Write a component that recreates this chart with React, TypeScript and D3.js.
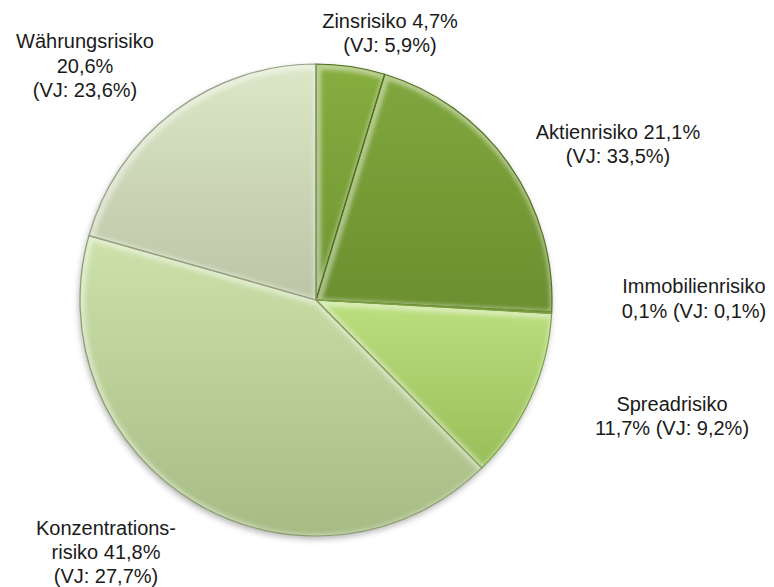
import React from "react";
import * as d3 from "d3";

const categories = [
  "Zinsrisiko",
  "Aktienrisiko",
  "Immobilienrisiko",
  "Spreadrisiko",
  "Konzentrationsrisiko",
  "Währungsrisiko",
];
const values = [4.7, 21.1, 0.1, 11.7, 41.8, 20.6];
const prevValues = [5.9, 33.5, 0.1, 9.2, 27.7, 23.6];

// label line templates: {n}=name, {v}=value, {p}=previous year
const labelTemplates = [
  ["Zinsrisiko {v}", "(VJ: {p})"],
  ["Aktienrisiko {v}", "(VJ: {p})"],
  ["Immobilienrisiko", "{v} (VJ: {p})"],
  ["Spreadrisiko", "{v} (VJ: {p})"],
  ["Konzentrations-", "risiko {v}", "(VJ: {p})"],
  ["Währungsrisiko", "{v}", "(VJ: {p})"],
];

const topColors = ["#86ad3f", "#80a73d", "#9cc257", "#bcdf80", "#cde2ab", "#dbe7c8"];
const bottomColors = ["#6f9532", "#6b8f2f", "#8ab04a", "#98be58", "#a6bc84", "#bcc5a5"];
const strokeColors = ["#4f6d1f", "#52721f", "#6f9236", "#7d9f45", "#8a9c6c", "#989f86"];

// label layout (center x, first baseline, line step)
const labelPos = [
  [390, 28, 24],
  [618, 139, 24],
  [694, 293, 24.5],
  [672, 411, 24],
  [106, 535, 24],
  [85, 48, 24.5],
];

const W = 774;
const H = 587;
const cx = 316;
const cy = 300;
const R = 236;

const fmt = (v: number) => v.toFixed(1).replace(".", ",") + "%";

export default function App() {
  const pie = d3
    .pie<number>()
    .sort(null)
    .startAngle(0)
    .endAngle(2 * Math.PI)(values);
  const arc = d3.arc<d3.PieArcDatum<number>>().innerRadius(0).outerRadius(R);

  return (
    <svg
      width={W}
      height={H}
      style={{ position: "absolute", left: 0, top: 0, background: "#fff" }}
      fontFamily="'Liberation Sans', Arial, sans-serif"
    >
      <defs>
        <filter id="shadow" x="-20%" y="-20%" width="140%" height="140%">
          <feDropShadow dx="-1" dy="3" stdDeviation="3" floodColor="#000" floodOpacity="0.3" />
        </filter>
        <filter id="blur" x="-10%" y="-10%" width="120%" height="120%">
          <feGaussianBlur stdDeviation="2" />
        </filter>
        {pie.map((d, i) => (
          <linearGradient key={"g" + i} id={"grad" + i} x1="0" y1="0" x2="0" y2="1">
            <stop offset="0" stopColor={topColors[i]} />
            <stop offset="1" stopColor={bottomColors[i]} />
          </linearGradient>
        ))}
        {pie.map((d, i) => (
          <clipPath key={"c" + i} id={"clip" + i}>
            <path d={arc(d) || ""} />
          </clipPath>
        ))}
      </defs>
      <g transform={`translate(${cx},${cy})`}>
        <g filter="url(#shadow)">
          {pie.map((d, i) => (
            <path key={"p" + i} d={arc(d) || ""} fill={`url(#grad${i})`} />
          ))}
        </g>
        {pie.map((d, i) => (
          <g key={"h" + i} clipPath={`url(#clip${i})`}>
            <path
              d={arc(d) || ""}
              fill="none"
              stroke="#ffffff"
              strokeOpacity={0.45}
              strokeWidth={7}
              filter="url(#blur)"
              transform="translate(1.5,2)"
            />
          </g>
        ))}
        {pie.map((d, i) => (
          <path
            key={"s" + i}
            d={arc(d) || ""}
            fill="none"
            stroke={strokeColors[i]}
            strokeWidth={1.2}
            strokeLinejoin="round"
          />
        ))}
      </g>
      {labelTemplates.map((lines, i) => (
        <text key={"t" + i} textAnchor="middle" fontSize={20} fill="#1a1a1a">
          {lines.map((ln, j) => (
            <tspan key={j} x={labelPos[i][0]} y={labelPos[i][1] + j * labelPos[i][2]}>
              {ln
                .replace("{n}", categories[i])
                .replace("{v}", fmt(values[i]))
                .replace("{p}", fmt(prevValues[i]))}
            </tspan>
          ))}
        </text>
      ))}
    </svg>
  );
}
